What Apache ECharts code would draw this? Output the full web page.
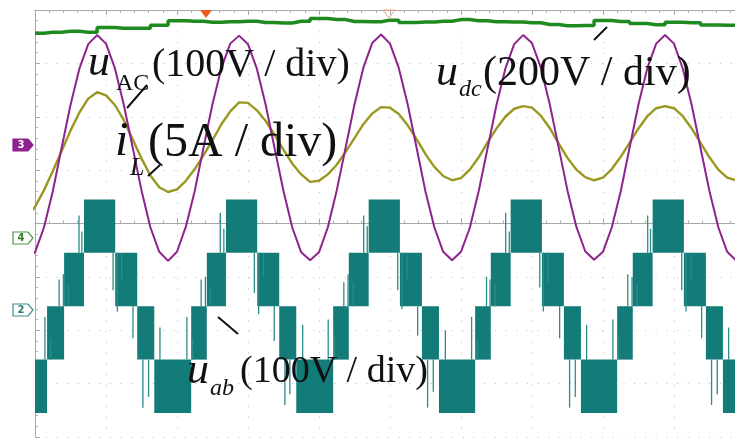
<!DOCTYPE html>
<html>
<head>
<meta charset="utf-8">
<script src="https://cdn.jsdelivr.net/npm/echarts/dist/echarts.min.js"></script>
<style>
  html, body { margin: 0; padding: 0; background: #fff; }
  #scope { width: 735px; height: 440px; }
</style>
</head>
<body>
<div id="scope"></div>
<script>
// time axis in divisions, screen 8 divisions high
const sampleStart = -0.125
const sampleStep = 0.125

// u_AC, volts (100V/div)
const uAC = [
  -211, -196, -150, -82, 0, 80, 148, 194, 211, 195, 149, 81, 1, -80, -149, -195, -212,
  -195, -148, -81, 1, 82, 149, 195, 210, 194, 148, 80, -1, -81, -150, -196, -211,
  -196, -149, -80, 0, 81, 150, 196, 212, 195, 149, 81, 0, -82, -149, -195, -211,
  -195, -150, -81, -1, 80, 148, 194, 211, 196, 150, 82, 1, -80, -148, -194, -210,
  -195, -149, -82, 0, 81, 149, 195, 211, 195, 148, 80, -1, -81, -149, -195, -211
]

// i_L, amps (5A/div)
const iL = [
  -7.0, -6.0, -4.45, -2.65, -0.75, 1.15, 2.85, 4.15, 4.75, 4.45, 3.55, 2.15, 0.35, -1.45, -3.05, -4.15, -4.6,
  -4.35, -3.55, -2.45, -1.15, 0.25, 1.75, 2.95, 3.8, 3.75, 3.05, 2.05, 0.75, -0.65, -1.95, -2.95, -3.65,
  -3.55, -2.95, -2.05, -0.85, 0.45, 1.75, 2.75, 3.35, 3.3, 2.7, 1.65, 0.35, -1.05, -2.25, -3.1, -3.5,
  -3.3, -2.5, -1.35, 0.05, 1.35, 2.45, 3.2, 3.45, 3.3, 2.55, 1.4, -0.05, -1.4, -2.5, -3.2, -3.5,
  -3.25, -2.45, -1.3, 0, 1.35, 2.5, 3.25, 3.45, 3.25, 2.5, 1.35, 0, -1.35, -2.5, -3.25, -3.5
]

// u_dc, volts (200V/div), one reading every 0.25 div
const dcStart = 0
const dcStep = 0.25
const uDC = [
  767, 771, 774, 771, 788, 786, 786, 797, 814, 812, 808, 810, 812, 807, 805, 812, 822,
  818, 811, 810, 816, 807, 809, 812, 818, 814, 810, 809, 806, 800, 795, 796, 815, 811,
  803, 799, 808, 806, 798, 797, 797
]

// u_ab switching bands: [t start, t end, low level V, high level V] (100V/div)
const uAB = [
  [-0.34, 0.17, -200, -100], [0.17, 0.41, -100, 0], [0.41, 0.69, 0, 100],
  [0.69, 1.13, 100, 200], [1.13, 1.44, 0, 100], [1.44, 1.68, -100, 0],
  [1.68, 2.20, -200, -100], [2.20, 2.42, -100, 0], [2.42, 2.69, 0, 100],
  [2.69, 3.13, 100, 200], [3.13, 3.44, 0, 100], [3.44, 3.68, -100, 0],
  [3.68, 4.20, -200, -100], [4.20, 4.42, -100, 0], [4.42, 4.70, 0, 100],
  [4.70, 5.14, 100, 200], [5.14, 5.45, 0, 100], [5.45, 5.69, -100, 0],
  [5.69, 6.20, -200, -100], [6.20, 6.42, -100, 0], [6.42, 6.70, 0, 100],
  [6.70, 7.14, 100, 200], [7.14, 7.45, 0, 100], [7.45, 7.69, -100, 0],
  [7.69, 8.20, -200, -100], [8.20, 8.42, -100, 0], [8.42, 8.70, 0, 100],
  [8.70, 9.14, 100, 200], [9.14, 9.45, 0, 100], [9.45, 9.69, -100, 0],
  [9.69, 10.2, -200, -100]
]

// u_ab single switching spikes outside the bands: [t, from V, to V]
const uABSpikes = [
  [0.14, -100, -20], [0.22, -100, -60], [0.34, 0, 50],
  [0.40, 0, 60], [0.47, 0, 40], [0.62, 100, 170], [0.66, 100, 140], [1.10, 100, 30],
  [1.16, 100, -10], [1.22, 100, 50], [1.38, 0, -60], [1.52, -100, -190], [1.60, -100, -170],
  [1.76, -100, -40], [2.14, -100, -20], [2.22, -100, -60], [2.34, 0, 50],
  [2.40, 0, 55], [2.47, 0, 35], [2.61, 100, 175], [2.66, 100, 145], [3.09, 100, 25],
  [3.15, 100, -15], [3.22, 100, 55], [3.37, 0, -65], [3.52, -100, -185], [3.59, -100, -165],
  [3.77, -100, -35], [4.13, -100, -25], [4.22, -100, -55], [4.35, 0, 45],
  [4.41, 0, 60], [4.48, 0, 45], [4.63, 100, 170], [4.68, 100, 150], [5.11, 100, 30],
  [5.17, 100, -5], [5.24, 100, 50], [5.39, 0, -55], [5.53, -100, -190], [5.61, -100, -160],
  [5.78, -100, -45], [6.15, -100, -20], [6.23, -100, -65], [6.36, 0, 55],
  [6.41, 0, 50], [6.48, 0, 40], [6.63, 100, 175], [6.68, 100, 140], [7.11, 100, 35],
  [7.16, 100, -10], [7.23, 100, 45], [7.39, 0, -60], [7.53, -100, -190], [7.61, -100, -170],
  [7.77, -100, -35], [8.14, -100, -25], [8.22, -100, -55], [8.35, 0, 60],
  [8.41, 0, 55], [8.48, 0, 40], [8.63, 100, 170], [8.67, 100, 145], [9.11, 100, 30],
  [9.17, 100, -10], [9.24, 100, 50], [9.39, 0, -60], [9.53, -100, -185], [9.61, -100, -165],
  [9.77, -100, -40]
]

// channel ground positions (div) and scales (units/div)
const acOffset = 1.42, acScale = 100
const iOffset = 1.51, iScale = 5
const dcOffset = -0.27, dcScale = 200
const abOffset = -1.55, abScale = 100

const purple = '#8e228e'
const olive = '#9a9820'
const green = '#1f8a1f'
const teal = '#137b78'

const acData = uAC.map((v, i) => [sampleStart + i * sampleStep, acOffset + v / acScale])
const iData = iL.map((v, i) => [sampleStart + i * sampleStep, iOffset + v / iScale])
const dcData = uDC.map((v, i) => [dcStart + i * dcStep, dcOffset + v / dcScale])
const abData = uAB.map(b => [b[0], b[1], abOffset + b[2] / abScale, abOffset + b[3] / abScale])
const spikeData = uABSpikes.map(s => [s[0], abOffset + s[1] / abScale, abOffset + s[2] / abScale])

const chart = echarts.init(document.getElementById('scope'))

const dotted = { color: '#bdbdbd', width: 1, type: [1, 9.7] }
const frame = { show: true, lineStyle: { color: '#a8a8a8', width: 1 } }

function textEl(x, y, text, font) {
  return { type: 'text', x: x, y: y, z: 100,
    style: { text: text, font: font, fill: '#111', verticalAlign: 'middle' } }
}
function tag(cy, label, fill, stroke, color) {
  return [
    { type: 'polygon', z: 100, shape: { points: [[13, cy - 6], [28, cy - 6], [33, cy], [28, cy + 6], [13, cy + 6]] },
      style: { fill: fill, stroke: stroke, lineWidth: 1.2 } },
    { type: 'text', x: 21, y: cy, z: 101,
      style: { text: label, font: 'bold 10px "DejaVu Sans"', fill: color, align: 'center', verticalAlign: 'middle' } }
  ]
}
function leader(x1, y1, x2, y2) {
  return { type: 'line', z: 100, shape: { x1: x1, y1: y1, x2: x2, y2: y2 },
    style: { stroke: '#111', lineWidth: 2 } }
}

const options = {
  animation: false,
  backgroundColor: '#fff',
  grid: { left: 35, right: 0, top: 10, bottom: 3 },
  xAxis: [
    {
      type: 'value', min: 0, max: 9.86, interval: 1, position: 'bottom',
      axisLine: frame,
      axisTick: { show: true, inside: true, length: 5, lineStyle: { color: '#a8a8a8' } },
      minorTick: { show: true, splitNumber: 5, length: 3, lineStyle: { color: '#b0b0b0' } },
      axisLabel: { show: false },
      splitLine: { show: true, lineStyle: dotted }
    },
    {
      type: 'value', min: 0, max: 9.86, interval: 1, position: 'top',
      axisLine: frame,
      axisTick: { show: true, inside: true, length: 5, lineStyle: { color: '#a8a8a8' } },
      minorTick: { show: true, splitNumber: 5, length: 3, lineStyle: { color: '#b0b0b0' } },
      axisLabel: { show: false },
      splitLine: { show: false }
    }
  ],
  yAxis: {
    type: 'value', min: -4, max: 4, interval: 1,
    axisLine: frame,
    axisTick: { show: true, inside: true, length: 5, lineStyle: { color: '#a8a8a8' } },
    minorTick: { show: true, splitNumber: 5, length: 3, lineStyle: { color: '#b0b0b0' } },
    axisLabel: { show: false },
    splitLine: { show: true, lineStyle: dotted }
  },
  series: [
    {
      name: 'u_ab', type: 'custom', data: abData, clip: true, z: 2,
      encode: { x: [0, 1], y: [2, 3] },
      renderItem: function (params, api) {
        const p0 = api.coord([api.value(0), api.value(3)])
        const p1 = api.coord([api.value(1), api.value(2)])
        return { type: 'rect',
          shape: { x: p0[0], y: p0[1], width: p1[0] - p0[0], height: p1[1] - p0[1] },
          style: { fill: teal } }
      }
    },
    {
      name: 'u_ab spikes', type: 'custom', data: spikeData, clip: true, z: 2,
      encode: { x: 0, y: [1, 2] },
      renderItem: function (params, api) {
        const p0 = api.coord([api.value(0), api.value(1)])
        const p1 = api.coord([api.value(0), api.value(2)])
        return { type: 'line',
          shape: { x1: p0[0], y1: p0[1], x2: p1[0], y2: p1[1] },
          style: { stroke: '#2a8c89', lineWidth: 1.3 } }
      }
    },
    { name: 'i_L', type: 'line', data: iData, showSymbol: false, z: 3,
      lineStyle: { color: olive, width: 2.4 } },
    { name: 'u_AC', type: 'line', data: acData, showSymbol: false, z: 4,
      lineStyle: { color: purple, width: 2 } },
    { name: 'u_dc', type: 'line', data: dcData, step: 'middle', showSymbol: false, z: 5,
      lineStyle: { color: green, width: 3.5 } }
  ],
  graphic: [
    { type: 'polygon', z: 100, shape: { points: [[200, 10], [212, 10], [206, 18]] }, style: { fill: '#ef5a1e' } },
    { type: 'polygon', z: 100, shape: { points: [[383, 10], [395, 10], [389, 18]] },
      style: { fill: 'none', stroke: '#f2a384', lineWidth: 1 } },
    ...tag(145, '3', purple, purple, '#fff'),
    ...tag(238, '4', '#fff', '#4a9a4a', '#2f7f2f'),
    ...tag(310, '2', '#fff', '#3f8f8f', '#2a7a7a'),
    leader(127, 108, 147, 85),
    leader(148, 176, 160, 165),
    leader(594, 40, 607, 27),
    leader(218, 317, 238, 334),
    textEl(88, 63, 'u', 'italic 44px "Liberation Serif"'),
    textEl(116, 84, 'AC', '24px "Liberation Serif"'),
    textEl(152, 65, '(100V / div)', '40px "Liberation Serif"'),
    textEl(115, 142, 'i', 'italic 48px "Liberation Serif"'),
    textEl(130, 168, 'L', 'italic 26px "Liberation Serif"'),
    textEl(148, 143, '(5A / div)', '48px "Liberation Serif"'),
    textEl(436, 73, 'u', 'italic 44px "Liberation Serif"'),
    textEl(459, 90, 'dc', 'italic 24px "Liberation Serif"'),
    textEl(483, 74, '(200V / div)', '42px "Liberation Serif"'),
    textEl(187, 371, 'u', 'italic 44px "Liberation Serif"'),
    textEl(210, 389, 'ab', 'italic 24px "Liberation Serif"'),
    textEl(240, 372, '(100V / div)', '38px "Liberation Serif"')
  ]
}
chart.setOption(options)
</script>
</body>
</html>
